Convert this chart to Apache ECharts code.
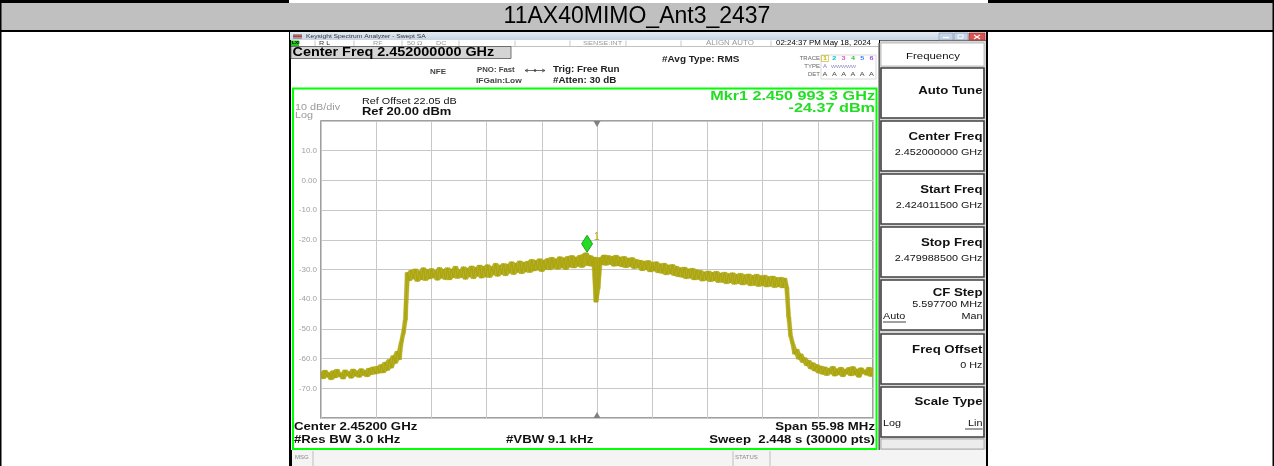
<!DOCTYPE html>
<html><head><meta charset="utf-8">
<script src="https://cdn.jsdelivr.net/npm/echarts@6/dist/echarts.min.js"></script>
<style>html,body{margin:0;padding:0;background:#fff;}#c{width:1274px;height:466px;}</style>
</head><body><div id="c"></div>
<script>
// ---------------- data ----------------
const chartTitle = '11AX40MIMO_Ant3_2437';
const startFreqGHz = 2.4240115;
const stopFreqGHz = 2.4799885;
const centerFreqGHz = 2.452;
const divMHz = 5.5977;          // span / 10
const refLevelDbm = 20;
const bottomLevelDbm = -80;
const dbPerDiv = 10;
const markerFreqGHz = 2.4509933;
const markerDbm = -24.37;

// trace (dBm), evenly spaced sweep points from start to stop
const traceLeftFloor = [-64.5,-66.8,-63.9,-66.2,-64.8,-67.1,-64.1,-66.5,-63.6,-66.0,-64.9,-66.9,-63.8,-65.7,-64.4,-66.6,-63.5,-65.9,-64.2,-66.3,-63.4,-65.6,-64.0,-66.1,-63.2,-65.4,-62.8,-65.2,-62.6,-64.9];
const traceLeftSkirt = [-62.0,-64.8,-61.2,-64.0,-60.3,-63.2,-59.0,-61.6,-57.5,-60.4,-54.5,-51.5,-47.0];
const traceChannelLow = [
 -31.0,-33.8,-30.2,-33.1,-29.8,-34.0,-30.5,-33.4,-29.4,-33.7,
 -30.1,-33.2,-29.7,-32.8,-30.4,-33.6,-29.3,-32.9,-30.0,-33.4,
 -29.4,-33.5,-29.9,-32.7,-28.9,-33.0,-30.2,-32.6,-29.1,-33.3,
 -29.6,-32.4,-28.8,-33.1,-29.3,-32.2,-28.5,-32.9,-29.0,-32.5,
 -28.4,-32.7,-29.1,-31.8,-27.9,-32.3,-28.6,-31.6,-28.0,-32.1,
 -28.2,-31.2,-27.4,-31.7,-27.9,-30.9,-27.1,-31.4,-27.6,-30.8,
 -27.2,-31.0,-26.6,-30.5,-27.0,-30.2,-26.4,-30.7,-26.9,-29.9,
 -26.3,-30.1,-25.9,-29.6,-26.5,-29.9,-25.7,-29.4,-26.1,-30.0,
 -25.6,-29.2,-25.3,-29.5,-25.9,-28.9,-25.2,-29.3,-24.9,-24.4,
 -28.7,-25.3,-28.9,-25.8];
const traceCenterDip = [-41.0,-36.5];
const traceChannelHigh = [
 -26.0,-28.4,-25.1,-28.6,-25.3,-28.2,-25.6,-28.9,-25.2,-28.7,
 -25.8,-29.1,-25.6,-29.4,-26.2,-29.0,-26.0,-29.7,-26.6,-29.5,
 -26.9,-30.4,-27.2,-30.0,-27.0,-30.8,-27.6,-30.5,-27.4,-31.1,
 -28.1,-31.3,-27.9,-31.8,-28.5,-31.5,-28.3,-32.0,-28.9,-32.4,
 -29.4,-32.6,-29.2,-33.1,-29.8,-32.9,-29.6,-33.5,-30.1,-33.3,
 -30.3,-33.9,-30.8,-33.6,-30.5,-34.1,-31.0,-33.8,-30.6,-34.4,
 -31.2,-34.3,-30.9,-34.8,-31.4,-34.5,-31.1,-35.0,-31.6,-34.7,
 -31.3,-35.2,-31.8,-34.9,-31.5,-35.5,-32.0,-35.3,-31.6,-35.7,
 -32.1,-35.4,-31.9,-35.9,-32.4,-35.6,-32.2,-36.1,-32.7,-35.8,
 -32.6,-36.2,-32.9,-35.9];
const traceRightSkirt = [-46.0,-52.5,-55.0,-58.5,-56.8,-60.2,-58.4,-61.3,-59.7,-62.4,-60.6,-63.5,-61.4,-64.2,-62.0,-64.9,-62.5,-65.3];
const traceRightFloor = [-62.8,-65.7,-63.3,-65.1,-62.6,-65.9,-63.5,-65.4,-62.9,-66.1,-63.7,-65.2,-63.0,-65.8,-62.7,-65.5,-63.6,-66.3,-63.1,-65.0,-63.9,-65.6,-62.9,-66.0,-63.4];

const traceDbm = [].concat(traceLeftFloor, traceLeftSkirt, traceChannelLow, traceCenterDip, traceChannelHigh, traceRightSkirt, traceRightFloor);

// x in MHz offset from centre, along the sweep grid
const nPts = traceDbm.length;
const traceX = traceDbm.map((v, i) => (startFreqGHz + i * (stopFreqGHz - startFreqGHz) / (nPts - 1) - centerFreqGHz) * 1000);
const traceData = traceDbm.map((v, i) => [traceX[i], v]);
// noise band: local min / max over neighbouring sweep points, as segments i -> i+1
const nb = i => [traceDbm[Math.max(0, i - 1)], traceDbm[i], traceDbm[Math.min(nPts - 1, i + 1)]];
const bandLo = traceDbm.map((v, i) => Math.min.apply(null, nb(i)));
const bandHi = traceDbm.map((v, i) => Math.max.apply(null, nb(i)));
const bandData = traceDbm.slice(0, nPts - 1).map((v, i) => [traceX[i], bandLo[i], bandHi[i], traceX[i + 1], bandLo[i + 1], bandHi[i + 1]]);
const markerOffsetMHz = (markerFreqGHz - centerFreqGHz) * 1000;

// ---------------- UI drawing helpers ----------------
const FONT = '"Liberation Sans", Arial, sans-serif';
const SX = 1.2;   // the pasted screenshot is stretched horizontally
const G = [];
function rect(x, y, w, h, fill, stroke, lw, z) {
  G.push({type: 'rect', shape: {x: x, y: y, width: w, height: h},
    style: {fill: fill || 'none', stroke: stroke || null, lineWidth: lw || 1},
    z: (z === undefined ? -1 : z), silent: true});
}
function line(x1, y1, x2, y2, color, lw, z) {
  G.push({type: 'line', shape: {x1: x1, y1: y1, x2: x2, y2: y2},
    style: {stroke: color, lineWidth: lw || 1}, z: (z === undefined ? 6 : z), silent: true});
}
function text(x, y, t, size, o) {
  o = o || {};
  G.push({type: 'text', x: x, y: y, z: 7, silent: true, scaleX: (o.sx === undefined ? SX : o.sx), scaleY: 1,
    style: {text: t, fill: o.color || '#000',
      font: (o.bold ? 'bold ' : '') + size + 'px ' + (o.family || FONT),
      textAlign: o.align || 'left', textVerticalAlign: 'middle',
      align: o.align || 'left', verticalAlign: 'middle'}});
}

// document table: title row
rect(0, 0, 289, 3, '#000', null, 1, -3);
rect(988, 0, 286, 3, '#000', null, 1, -3);
rect(0, 3, 1274, 27, '#c0c0c0', null, 1, -3);
rect(0, 30, 1274, 2, '#000', null, 1, -3);
rect(0, 0, 1.5, 466, '#000', null, 1, -3);
rect(1272.5, 0, 1.5, 466, '#000', null, 1, -3);
text(637, 17, chartTitle, 23, {align: 'center', color: '#000', sx: 1});

// screenshot window
rect(289, 32, 699, 434, '#000', null, 1, -3);
G.push({type: 'rect', shape: {x: 290, y: 32, width: 696, height: 8}, z: -2, silent: true,
  style: {fill: new echarts.graphic.LinearGradient(0, 0, 0, 1, [{offset: 0, color: '#e4ebf3'}, {offset: 1, color: '#c7d3e2'}])}});
rect(293, 34, 9, 5, '#9a9a9a', null, 1, -1);
rect(293, 35.5, 9, 1.5, '#d03030', null, 1, 0);
text(306, 36.2, 'Keysight Spectrum Analyzer - Swept SA', 5.6, {color: '#333'});
rect(939, 33, 14, 7, '#c5d3e6', '#8090a8', 0.6, 0);
rect(954, 33, 14, 7, '#c5d3e6', '#8090a8', 0.6, 0);
rect(969, 33, 16, 7, '#d9534f', '#a03030', 0.6, 0);
line(943, 37.5, 949, 37.5, '#fff', 1.2);
rect(958, 34.8, 5, 3.5, 'none', '#fff', 0.9, 6);
line(974, 35, 980, 39, '#fff', 1.2);
line(980, 35, 974, 39, '#fff', 1.2);

// status row
rect(291, 40, 588, 6.5, '#fff', null, 1, -2);
rect(291, 40.5, 8, 5.5, '#1ec81e', null, 1, -1);
text(292, 43.3, 'LXI', 4, {bold: true, color: '#000'});
[315, 354, 402, 459, 515, 570, 626, 681, 771].forEach(x => line(x, 40.5, x, 46, '#b0b0b0', 0.7));
text(319, 43.3, 'R L', 6, {color: '#333'});
text(373, 43.3, 'RF', 6, {color: '#999'});
text(407, 43.3, '50 \u03a9', 6, {color: '#999'});
text(436, 43.3, 'DC', 6, {color: '#999'});
text(583, 43.3, 'SENSE:INT', 6.2, {color: '#999'});
text(706, 43.3, 'ALIGN AUTO', 6.6, {color: '#999'});
text(776, 43.3, '02:24:37 PM May 18, 2024', 6.6, {color: '#000'});

// header area
rect(291, 46.5, 588, 41.5, '#fff', null, 1, -2);
rect(291, 46.5, 220, 12, '#d4d4d4', '#555', 0.8, -1);
text(292.5, 53, 'Center Freq 2.452000000 GHz', 12, {bold: true, color: '#000'});
text(430, 72, 'NFE', 6.7, {bold: true, color: '#444'});
text(477, 70.5, 'PNO: Fast', 6.5, {bold: true, color: '#444'});
line(525, 70.5, 545, 70.5, '#444', 0.8);
line(525, 70.5, 528, 69, '#444', 0.8);
line(525, 70.5, 528, 72, '#444', 0.8);
line(545, 70.5, 542, 69, '#444', 0.8);
line(545, 70.5, 542, 72, '#444', 0.8);
G.push({type: 'circle', shape: {cx: 535, cy: 70.5, r: 1.3}, style: {fill: '#444'}, z: 6, silent: true});
text(476, 81, 'IFGain:Low', 7, {bold: true, color: '#444'});
text(553, 69.5, 'Trig: Free Run', 8.2, {bold: true, color: '#222'});
text(553, 80.5, '#Atten: 30 dB', 8.2, {bold: true, color: '#222'});
text(662, 60, '#Avg Type: RMS', 8.3, {bold: true, color: '#222'});
rect(821, 55, 55, 24, 'none', '#c0c0c0', 0.6, 0);
text(820, 58.5, 'TRACE', 5, {align: 'right', color: '#666'});
text(820, 66.5, 'TYPE', 5, {align: 'right', color: '#666'});
text(820, 74.5, 'DET', 5, {align: 'right', color: '#666'});
const traceNumColors = ['#c8b400', '#00c0e0', '#e050d0', '#30c030', '#3080ff', '#a050e0'];
rect(821.5, 55.5, 7, 6, 'none', '#c8b400', 0.6, 0);
traceNumColors.forEach((c, k) => {
  text(825 + k * 9.3, 58.5, String(k + 1), 6, {bold: true, color: c, align: 'center'});
  text(825 + k * 9.3, 74.5, 'A', 6, {color: '#444', align: 'center'});
});
text(825, 66.5, 'A', 5, {color: '#8080c0', align: 'center'});
text(831, 66.5, 'WWWWW', 4.4, {color: '#8080c0'});

// green panel
rect(291, 88, 588, 362, '#fff', null, 1, -2);
rect(293, 88.5, 583.5, 360.5, 'none', '#00ff00', 2, 5);
line(879, 43, 879, 450, '#808080', 1.5, 5);

// texts inside the measurement area
text(295, 107.5, '10 dB/div', 9, {color: '#9a9a9a'});
text(295, 115.5, 'Log', 9, {color: '#9a9a9a'});
text(362, 101.5, 'Ref Offset 22.05 dB', 9, {color: '#111'});
text(362, 112, 'Ref 20.00 dBm', 10.8, {bold: true, color: '#111'});
text(875, 96, 'Mkr1 2.450 993 3 GHz', 13.5, {bold: true, color: '#22dd22', align: 'right'});
text(875, 108, '-24.37 dBm', 13.5, {bold: true, color: '#22dd22', align: 'right'});
text(294, 426.5, 'Center 2.45200 GHz', 11, {bold: true, color: '#111'});
text(875, 426.5, 'Span 55.98 MHz', 11, {bold: true, color: '#111', align: 'right'});
text(294, 439.5, '#Res BW 3.0 kHz', 11, {bold: true, color: '#111'});
text(506, 439.5, '#VBW 9.1 kHz', 11, {bold: true, color: '#111'});
text(875, 439.5, 'Sweep  2.448 s (30000 pts)', 11, {bold: true, color: '#111', align: 'right'});

// MSG bar
rect(292, 450, 694, 16, '#f4f4f4', null, 1, -2);
line(313, 451, 313, 466, '#b0b0b0', 0.8);
line(733, 451, 733, 466, '#b0b0b0', 0.8);
line(770, 451, 770, 466, '#b0b0b0', 0.8);
text(295, 457.5, 'MSG', 5, {color: '#888'});
text(735, 457.5, 'STATUS', 5, {color: '#888'});

// softkey panel
rect(880, 40.5, 106, 409.5, '#d8d8d8', null, 1, -2);
rect(881, 43, 103, 23, '#fff', '#b0b0b0', 0.8, -1);
text(933, 56, 'Frequency', 9.5, {color: '#111', align: 'center'});
const keys = [
  {y: 68, title: 'Auto Tune'},
  {y: 121, title: 'Center Freq', value: '2.452000000 GHz'},
  {y: 174, title: 'Start Freq', value: '2.424011500 GHz'},
  {y: 227, title: 'Stop Freq', value: '2.479988500 GHz'},
  {y: 280, title: 'CF Step', value: '5.597700 MHz', auto: true},
  {y: 334, title: 'Freq Offset', value: '0 Hz'},
  {y: 387, title: 'Scale Type', scale: true}
];
keys.forEach(k => {
  rect(881, k.y, 103, 50, '#fff', '#404040', 1.6, -1);
  if (!k.value && !k.scale) {
    text(982.5, k.y + 23, k.title, 11, {bold: true, color: '#111', align: 'right'});
  } else if (k.auto) {
    text(982.5, k.y + 13, k.title, 11, {bold: true, color: '#111', align: 'right'});
    text(982.5, k.y + 25, k.value, 9, {color: '#111', align: 'right'});
    text(883, k.y + 37, 'Auto', 9, {color: '#111'});
    line(883, k.y + 42, 906, k.y + 42, '#111', 0.8);
    text(982.5, k.y + 37, 'Man', 9, {color: '#111', align: 'right'});
  } else if (k.scale) {
    text(982.5, k.y + 15, k.title, 11, {bold: true, color: '#111', align: 'right'});
    text(883, k.y + 37, 'Log', 9, {color: '#111'});
    text(982.5, k.y + 37, 'Lin', 9, {color: '#111', align: 'right'});
    line(965, k.y + 42, 982.5, k.y + 42, '#111', 0.8);
  } else {
    text(982.5, k.y + 16, k.title, 11, {bold: true, color: '#111', align: 'right'});
    text(982.5, k.y + 32, k.value, 9, {color: '#111', align: 'right'});
  }
});
rect(881, 439, 103, 10, '#ececec', '#a0a0a0', 0.8, -1);

// ---------------- chart ----------------
const TRACE_COLOR = '#aba40a';
const chart = echarts.init(document.getElementById('c'), null, {renderer: 'canvas'});
chart.setOption({
  animation: false,
  backgroundColor: '#fff',
  grid: {left: 321, top: 121, width: 552, height: 297, show: true,
    borderColor: '#808080', borderWidth: 1.5, backgroundColor: 'transparent'},
  xAxis: {type: 'value', min: -5 * divMHz, max: 5 * divMHz, interval: divMHz,
    axisLine: {show: false}, axisTick: {show: false}, axisLabel: {show: false},
    splitLine: {show: true, lineStyle: {color: '#c8c8c8', width: 1}}},
  yAxis: {type: 'value', min: bottomLevelDbm, max: refLevelDbm, interval: dbPerDiv,
    axisLine: {show: false}, axisTick: {show: false},
    axisLabel: {color: '#a0a0a0', fontSize: 8, fontFamily: FONT, margin: 4,
      formatter: v => (v === refLevelDbm || v === bottomLevelDbm) ? '' : (v === 0 ? '0.00' : v.toFixed(1))},
    splitLine: {show: true, lineStyle: {color: '#c8c8c8', width: 1}}},
  graphic: {elements: G},
  series: [
    {type: 'custom', data: bandData, silent: true, z: 2, clip: true,
      encode: {x: [0, 3], y: [1, 2, 4, 5]},
      renderItem: (params, api) => {
        const a = api.coord([api.value(0), api.value(2)]);
        const b = api.coord([api.value(3), api.value(5)]);
        const c = api.coord([api.value(3), api.value(4)]);
        const d = api.coord([api.value(0), api.value(1)]);
        return {type: 'polygon', shape: {points: [a, b, c, d]},
          style: {fill: TRACE_COLOR, stroke: TRACE_COLOR, lineWidth: 0.4, opacity: 0.9}};
      }},
    {
    type: 'line', data: traceData, showSymbol: false, symbol: 'none', silent: true,
    lineStyle: {color: TRACE_COLOR, width: 1}, z: 3,
    markPoint: {silent: true, animation: false, data: [
      {coord: [0, refLevelDbm], symbol: 'triangle', symbolRotate: 180, symbolSize: [7, 6], symbolOffset: [0, 3],
        itemStyle: {color: '#808080'}, label: {show: false}},
      {coord: [0, bottomLevelDbm], symbol: 'triangle', symbolSize: [7, 6], symbolOffset: [0, -3],
        itemStyle: {color: '#808080'}, label: {show: false}},
      {coord: [markerOffsetMHz, markerDbm], symbol: 'diamond', symbolSize: [11, 17], symbolOffset: [0, -9],
        itemStyle: {color: '#22dd22', borderColor: '#148a14', borderWidth: 0.8},
        label: {show: true, formatter: '1', position: 'right', distance: 1, offset: [0, -7],
          color: '#b3a800', fontSize: 10, fontFamily: FONT}}
    ]}
  }]
});
</script>
</body></html>
